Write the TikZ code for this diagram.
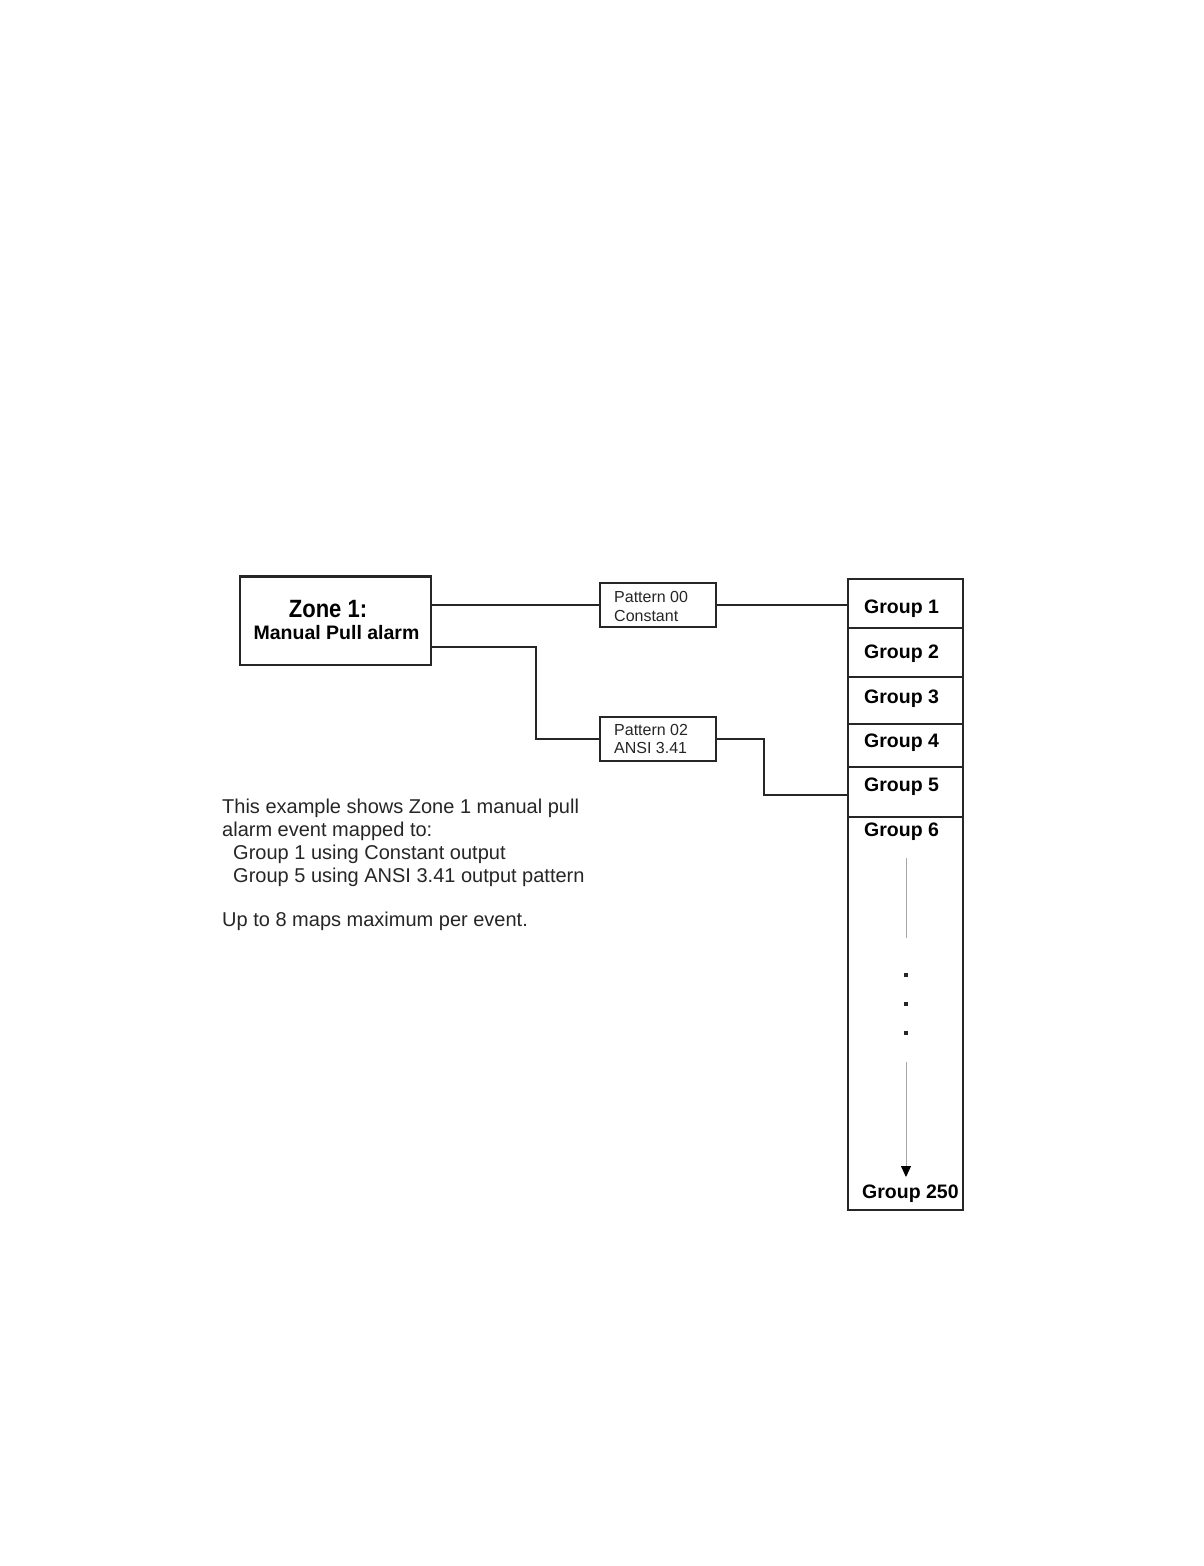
\documentclass[tikz,border=0pt]{standalone}
\usepackage{fontspec}
\usepackage{graphicx}
\setmainfont{Liberation Sans}
\usetikzlibrary{arrows.meta,calc}
\tikzset{
  box/.style={draw=black!85, line width=1.6pt, fill=white, inner sep=0pt},
  conn/.style={draw=black!85, line width=1.6pt},
  grplabel/.style={anchor=base west, inner sep=0pt, font=\fontsize{19.5}{22}\selectfont\bfseries},
  patlabel/.style={anchor=base west, inner sep=0pt, font=\fontsize{16}{18}\selectfont, text=black!85},
  bodytext/.style={anchor=base west, inner sep=0pt, font=\fontsize{20}{23}\selectfont, text=black!85},
  dotmark/.style={rectangle, fill=black!85, inner sep=0pt, minimum size=4.5pt},
}
\begin{document}
\begin{tikzpicture}[x=1pt,y=-1pt]
\useasboundingbox[fill=white] (0,0) rectangle (1204,1566);

% Zone box
\node[box, minimum width=191pt, minimum height=88pt] (zone) at (335.5,621) {};
\draw[black!85, line width=2.8pt] (zone.north west) -- (zone.north east);
\node[anchor=base, inner sep=0pt, font=\fontsize{25}{28}\selectfont\bfseries] (zt1) at (328,617) {\scalebox{0.88}[1]{Zone 1:}};
\node[anchor=base, inner sep=0pt, font=\fontsize{19.5}{22}\selectfont\bfseries] (zt2) at (336.5,639) {Manual Pull alarm};

% Pattern boxes
\node[box, minimum width=116pt, minimum height=44pt] (p0) at (658,605) {};
\node[patlabel] (p0a) at (614,602) {Pattern 00};
\node[patlabel] (p0b) at (614,621) {Constant};
\node[box, minimum width=116pt, minimum height=44pt] (p2) at (658,739) {};
\node[patlabel] (p2a) at (614,735) {Pattern 02};
\node[patlabel] (p2b) at (614,753) {ANSI 3.41};

% Group column
\node[box, minimum width=115pt, minimum height=49pt] (g1) at (905.5,603.5) {};
\node[box, minimum width=115pt, minimum height=49pt] (g2) at (905.5,652.5) {};
\node[box, minimum width=115pt, minimum height=47pt] (g3) at (905.5,700.5) {};
\node[box, minimum width=115pt, minimum height=43pt] (g4) at (905.5,745.5) {};
\node[box, minimum width=115pt, minimum height=50pt] (g5) at (905.5,792) {};
\node[box, minimum width=115pt, minimum height=393pt] (g6) at (905.5,1013.5) {};
\node[grplabel] (l1) at (864,613) {Group 1};
\node[grplabel] (l2) at (864,658) {Group 2};
\node[grplabel] (l3) at (864,703) {Group 3};
\node[grplabel] (l4) at (864,747) {Group 4};
\node[grplabel] (l5) at (864,791) {Group 5};
\node[grplabel] (l6) at (864,836) {Group 6};
\node[grplabel] (l250) at (862,1198) {Group 250};

% continuation marks
\coordinate (v1) at (906,858);
\coordinate (v2) at (906,938);
\coordinate (v3) at (906,1062);
\coordinate (v4) at (906,1177);
\draw[black!35, line width=1pt] (v1) -- (v2);
\draw[black!35, line width=1pt, -{Triangle[width=10pt,length=11pt,color=black]}] (v3) -- (v4);
\node[dotmark] (d1) at (906,975) {};
\node[dotmark] (d2) at (906,1004) {};
\node[dotmark] (d3) at (906,1033) {};

% connectors
\draw[conn] (zone.east |- p0.west) -- (p0.west);
\draw[conn] (p0.east) -- (g1.west |- p0.east);
\draw[conn] ([yshift=-26pt]zone.east) -- ++(104,0) |- (p2.west);
\draw[conn] (p2.east) -- ++(47,0) |- ($(g5.west)+(0,3)$);

% description
\node[bodytext] (t1) at (222,813) {This example shows Zone 1 manual pull};
\node[bodytext] (t2) at (222,836) {alarm event mapped to:};
\node[bodytext] (t3) at (233,859) {Group 1 using Constant output};
\node[bodytext] (t4) at (233,882) {Group 5 using ANSI 3.41 output pattern};
\node[bodytext] (t5) at (222,926) {Up to 8 maps maximum per event.};
\end{tikzpicture}
\end{document}
